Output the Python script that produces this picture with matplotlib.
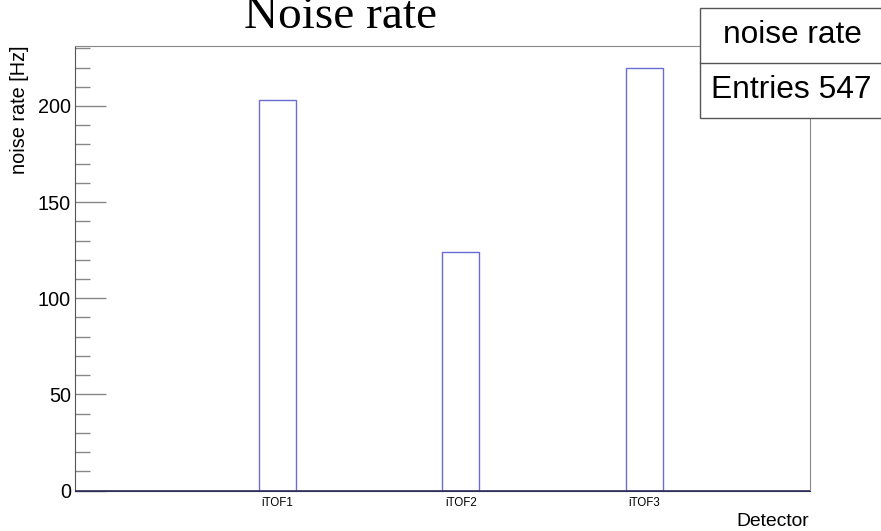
import numpy as np
from matplotlib import pyplot as plt
from matplotlib.ticker import MultipleLocator

# dati
detectors = ["iTOF1", "iTOF2", "iTOF3"]
rates = [203, 124, 220]
bin_pos = [1, 2, 3]
entries = 547

plt.rcParams['font.family'] = ['Liberation Sans', 'DejaVu Sans']

fig = plt.figure(figsize=(8.81, 5.31), dpi=100)
W, H = 881.0, 531.0
ax = fig.add_axes([75/W, (H-490.5)/H, 735/W, 444.5/H])

# istogramma come contorno
ax.bar(bin_pos, rates, width=0.2, align='edge', fill=False,
       edgecolor='#6b6bd6', linewidth=1.0, zorder=3)
ax.axhline(0, color='#2e2e5a', lw=1.2, zorder=4)

ax.set_xlim(0, 4)
ax.set_ylim(0, 231.2)

ax.set_xticks([p + 0.1 for p in bin_pos])
ax.set_xticklabels(detectors, fontsize=8.3)
ax.tick_params(axis='x', length=0, pad=5)

ax.yaxis.set_major_locator(MultipleLocator(50))
ax.yaxis.set_minor_locator(MultipleLocator(10))
ax.tick_params(axis='y', which='major', length=22, width=1, color='#888888',
               labelsize=14.3, pad=3, direction='in')
ax.tick_params(axis='y', which='minor', length=11, width=1, color='#888888',
               direction='in')

for s in ['top', 'right']:
    ax.spines[s].set_color('#888888')
ax.spines['left'].set_color('#555555')
ax.spines['bottom'].set_color('#2e2e5a')

fig.text(20/W, 1-46/H, "noise rate [Hz]", rotation=90, fontsize=14.3,
         ha='center', va='top')
fig.text(809/W, 1-521.7/H, "Detector", fontsize=13.9, ha='right', va='center')

fig.text(340/W, 1-28.3/H, "Noise rate", fontsize=34, ha='center',
         va='baseline', family=['Liberation Serif', 'DejaVu Serif'])

# riquadro statistiche
box = plt.Rectangle((700/W, 1-118/H), 190/W, 110/H, transform=fig.transFigure,
                    facecolor='white', edgecolor='#555555', lw=1, zorder=10)
fig.add_artist(box)
fig.add_artist(plt.Line2D([700/W, 1], [1-63/H, 1-63/H], transform=fig.transFigure,
                          color='#555555', lw=1, zorder=11))
fig.text(792/W, 1-35/H, "noise rate", fontsize=22.8, ha='center', va='center', zorder=12)
fig.text(711/W, 1-90/H, "Entries %d" % entries, fontsize=22.9, ha='left',
         va='center', zorder=12)

fig.savefig("out.png", dpi=100)
